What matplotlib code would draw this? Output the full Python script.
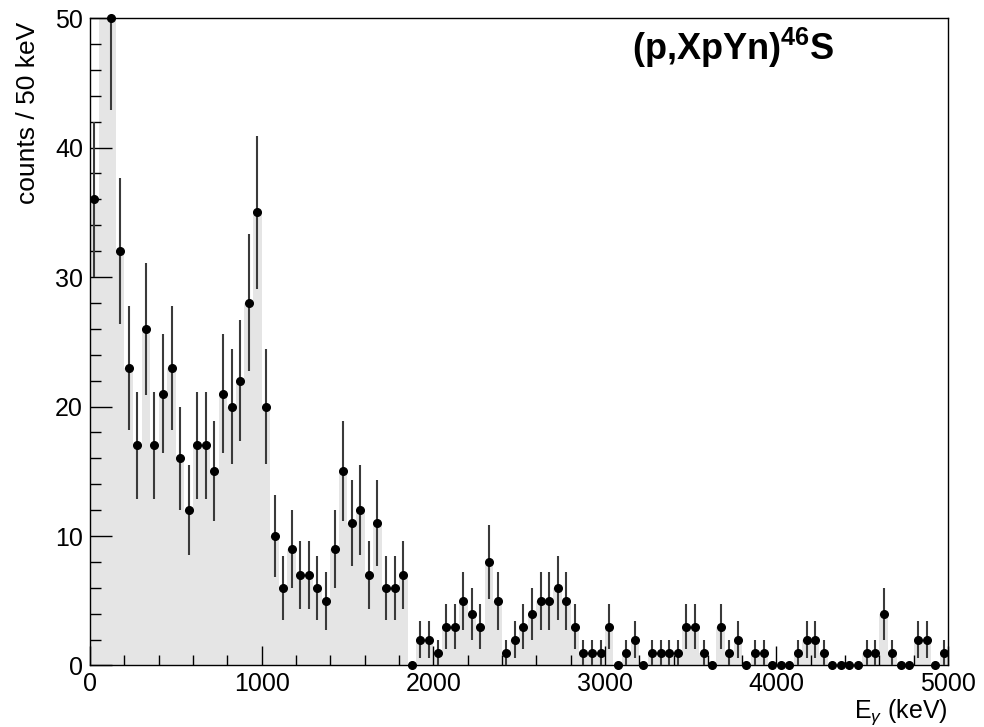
#!/usr/bin/env python3
"""Gamma-ray spectrum for (p,XpYn)46S, ROOT-style histogram with error bars."""

import numpy as np
import matplotlib
matplotlib.use("Agg")
import matplotlib.pyplot as plt
from matplotlib.ticker import MultipleLocator

plt.rcParams['font.family'] = ['Liberation Sans', 'DejaVu Sans']
plt.rcParams['mathtext.fontset'] = 'custom'
plt.rcParams['mathtext.rm'] = 'Liberation Sans'
plt.rcParams['mathtext.it'] = 'Liberation Sans:italic'
plt.rcParams['mathtext.bf'] = 'Liberation Sans:bold'

# histogram: 100 bins of 50 keV from 0 to 5000 keV
bin_width = 50
e_min, e_max = 0, 5000
counts = np.array([
    36, 60, 50, 32, 23, 17, 26, 17, 21, 23,
    16, 12, 17, 17, 15, 21, 20, 22, 28, 35,
    20, 10, 6, 9, 7, 7, 6, 5, 9, 15,
    11, 12, 7, 11, 6, 6, 7, 0, 2, 2,
    1, 3, 3, 5, 4, 3, 8, 5, 1, 2,
    3, 4, 5, 5, 6, 5, 3, 1, 1, 1,
    3, 0, 1, 2, 0, 1, 1, 1, 1, 3,
    3, 1, 0, 3, 1, 2, 0, 1, 1, 0,
    0, 0, 1, 2, 2, 1, 0, 0, 0, 0,
    1, 1, 4, 1, 0, 0, 2, 2, 0, 1,
], dtype=float)

y_max = 50
title = r'(p,XpYn)$^{\mathbf{46}}$S'
x_label = r'E$_{\gamma}$ (keV)'
y_label = 'counts / 50 keV'


def main():
    edges = np.arange(e_min, e_max + bin_width, bin_width)
    centers = 0.5 * (edges[:-1] + edges[1:])
    errors = np.sqrt(counts)

    fig = plt.figure(figsize=(9.84, 7.27), dpi=100)
    ax = fig.add_axes([0.0915, 0.0846, 0.872, 0.8906])

    # filled histogram
    ax.stairs(counts, edges, fill=True, color='#e5e5e5', linewidth=0)

    # error bars (clipped) and markers (not clipped so points on the frame stay round)
    has_err = counts > 0
    ax.vlines(centers[has_err], counts[has_err] - errors[has_err],
              counts[has_err] + errors[has_err], color='#3a3a3a', linewidth=1.5, zorder=3)
    inside = counts <= y_max
    ax.plot(centers[inside], counts[inside], 'o', color='black', markersize=5.5,
            clip_on=False, zorder=4)

    ax.set_xlim(e_min, e_max)
    ax.set_ylim(0, y_max)

    ax.xaxis.set_major_locator(MultipleLocator(1000))
    ax.xaxis.set_minor_locator(MultipleLocator(200))
    ax.yaxis.set_major_locator(MultipleLocator(10))
    ax.yaxis.set_minor_locator(MultipleLocator(2))
    ax.tick_params(axis='both', which='both', direction='in', top=False, right=False,
                   labelsize=18, pad=5, width=1)
    ax.tick_params(axis='x', which='major', length=14)
    ax.tick_params(axis='x', which='minor', length=7)
    ax.tick_params(axis='y', which='major', length=16)
    ax.tick_params(axis='y', which='minor', length=8)
    for spine in ax.spines.values():
        spine.set_linewidth(1)

    ax.set_xlabel(x_label, fontsize=18, loc='right')
    ax.xaxis.set_label_coords(1.0, -0.049)
    ax.set_ylabel(y_label, fontsize=19, loc='top')
    ax.yaxis.set_label_coords(-0.058, 0.994)

    fig.text(632 / 984, 1 - 60 / 727, title, fontsize=26, fontweight='bold',
             ha='left', va='baseline')

    fig.savefig('out.png', dpi=100)


if __name__ == "__main__":
    main()
